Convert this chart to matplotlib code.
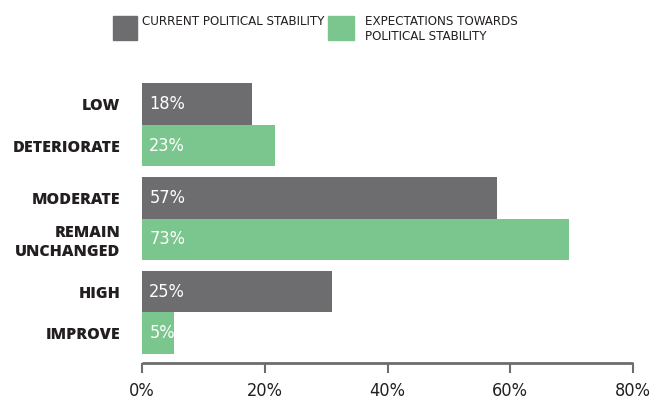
import matplotlib.pyplot as plt
import matplotlib.patches as mpatches
from matplotlib import font_manager

# Datos
categorias = ['LOW', 'DETERIORATE', 'MODERATE', 'REMAIN\nUNCHANGED', 'HIGH', 'IMPROVE']
valores = [17.9, 21.7, 57.8, 69.5, 30.9, 5.2]      # longitud de barra
etiquetas = ['18%', '23%', '57%', '73%', '25%', '5%']
serie = [0, 1, 0, 1, 0, 1]                           # 0 = actual, 1 = expectativas
series_nombres = ['CURRENT POLITICAL STABILITY', 'EXPECTATIONS TOWARDS\nPOLITICAL STABILITY']
ticks = [0, 20, 40, 60, 80]

gris = '#6d6d6f'
verde = '#7bc68e'
oscuro = '#231f20'

# fuente estrecha si existe alguna (preferir la mas estrecha)
orden = {'ultra-condensed': 0, 'extra-condensed': 1, 'condensed': 2, 'semi-condensed': 3}
cond = [f for f in font_manager.fontManager.ttflist if f.stretch in orden]
estrecha = dict(family='DejaVu Sans', fontstretch='condensed')
if cond:
    cond.sort(key=lambda f: orden[f.stretch])
    estrecha = dict(family=cond[0].name, fontstretch=cond[0].stretch)

fig = plt.figure(figsize=(6.54, 4.05), dpi=100)
ax = fig.add_axes([142 / 654, 1 - 363 / 405, 491 / 654, 280 / 405])

# posiciones: grupos de dos barras pegadas con un hueco entre grupos
pos = [(i // 2) * 2.25 + (i % 2) for i in range(len(valores))]
colores = [gris if s == 0 else verde for s in serie]
ax.barh(pos, valores, height=1.0, color=colores)

for p, v, t in zip(pos, valores, etiquetas):
    ax.text(1.2, p, t, color='white', fontsize=13, va='center', ha='left', **estrecha)

ax.set_ylim(6.214, -0.5)
ax.set_xlim(0, 80)
ax.set_yticks(pos)
ax.set_yticklabels(categorias, fontsize=11.5, fontweight='heavy', family='Open Sans',
                   color=oscuro, linespacing=1.2)
ax.tick_params(axis='y', length=0, pad=15.5)

ax.set_xticks(ticks)
ax.set_xticklabels([f'{t}%' for t in ticks], fontsize=13, color=oscuro, **estrecha)
ax.tick_params(axis='x', direction='out', length=7, width=1.5, color=gris, pad=7)

for lado in ['top', 'right', 'left']:
    ax.spines[lado].set_visible(False)
ax.spines['bottom'].set_color(gris)
ax.spines['bottom'].set_linewidth(2)
ax.spines['bottom'].set_capstyle('butt')

# Leyenda manual
fig.patches.append(mpatches.Rectangle((113 / 654, 1 - 40 / 405), 24 / 654, 24 / 405,
                                      color=gris, transform=fig.transFigure))
fig.text(142 / 654, 1 - 15 / 405, series_nombres[0], fontsize=9.5,
         color=oscuro, va='top', ha='left', **estrecha)
fig.patches.append(mpatches.Rectangle((328 / 654, 1 - 40 / 405), 26 / 654, 24 / 405,
                                      color=verde, transform=fig.transFigure))
fig.text(365 / 654, 1 - 15 / 405, series_nombres[1], fontsize=9.5,
         color=oscuro, va='top', ha='left', linespacing=1.25, **estrecha)

fig.savefig('out.png', dpi=100)
